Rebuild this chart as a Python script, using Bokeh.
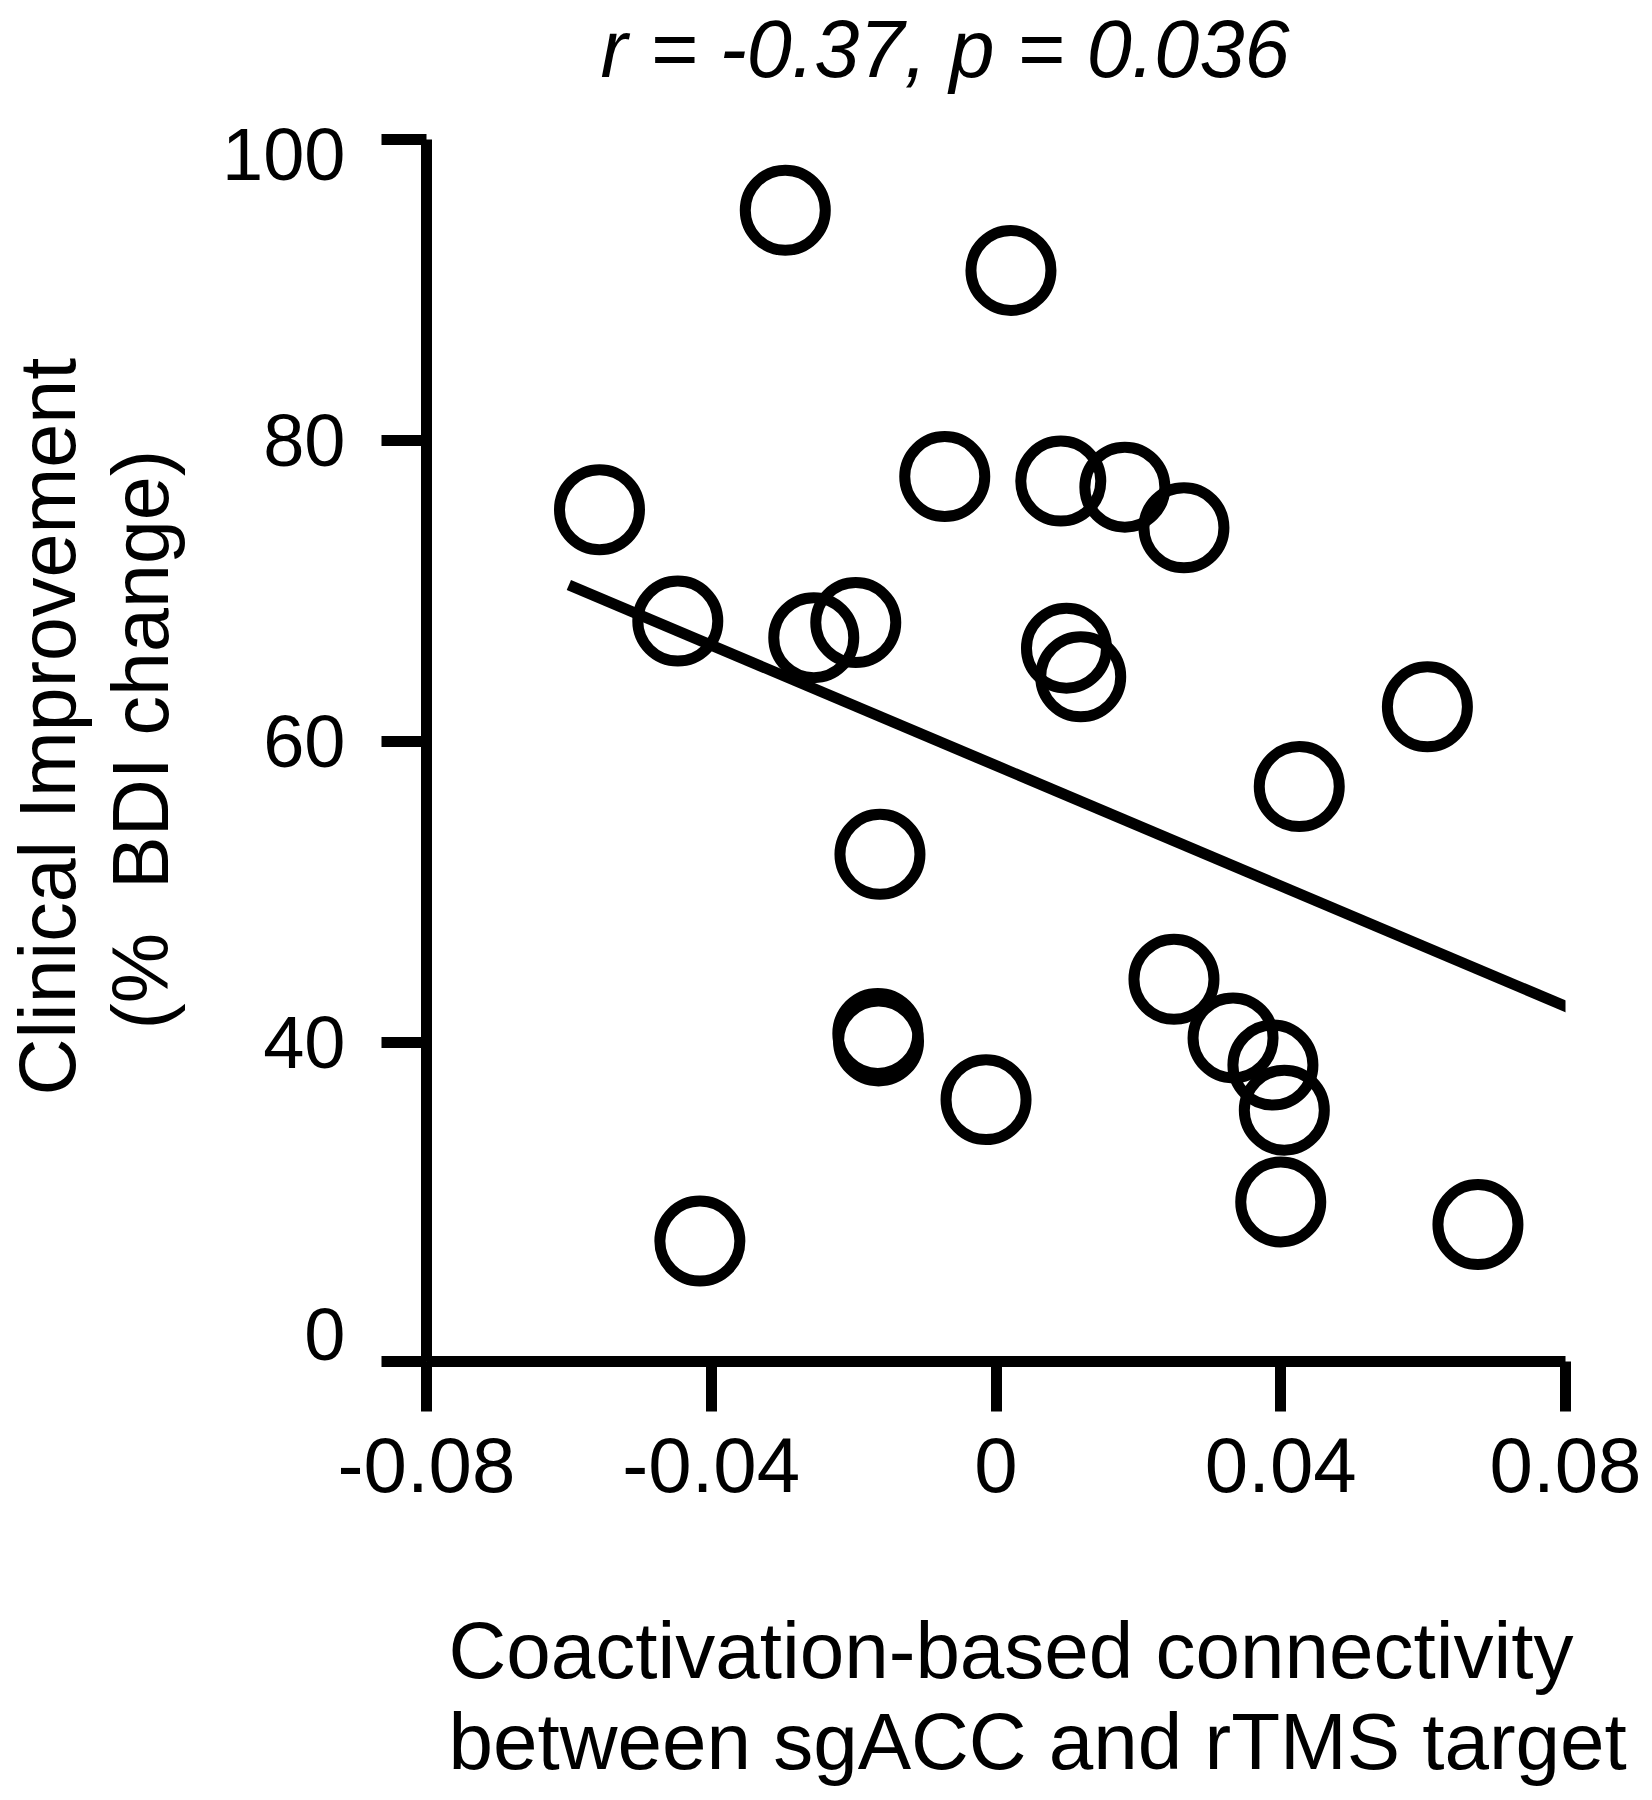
from bokeh.plotting import figure
from bokeh.models import Range1d, FixedTicker, CustomJSTickFormatter, LinearAxis, Title
from bokeh.embed import file_html
from bokeh.resources import INLINE

# ---------------- data ----------------
connectivity = [-0.0296, 0.0021, -0.0557, -0.0072, -0.0447, -0.0256, -0.0197,
                0.0091, 0.0181, 0.0264, 0.0099, 0.0119, 0.0606, 0.0426,
                -0.0163, -0.0166, -0.0165, -0.0014, -0.0416, 0.0250,
                0.0333, 0.0389, 0.0405, 0.0400, 0.0677]
bdi_change = [95.3, 91.3, 75.4, 77.6, 68.0, 66.9, 67.9,
              77.3, 76.9, 74.2, 66.2, 64.3, 62.3, 57.0,
              52.5, 40.6, 40.1, 36.2, 26.8, 44.2,
              40.3, 38.5, 35.5, 29.4, 27.9]

fit_x = [-0.060, 0.082]
fit_y = [70.4, 42.0]

x_ticks = [-0.08, -0.04, 0.0, 0.04, 0.08]
x_tick_labels = ["-0.08", "-0.04", "0", "0.04", "0.08"]
y_floor = 18.8                      # where the x axis sits (labelled "0")
y_ticks = [y_floor, 40, 60, 80, 100]
y_label_pos = [20.6, 40, 60, 80, 99.0]   # label positions as drawn in the figure
y_tick_labels = ["0", "40", "60", "80", "100"]

title_text = "r = -0.37, p = 0.036"
x_label_lines = ["Coactivation-based connectivity", "between sgACC and rTMS target"]
y_label_lines = ["Clinical Improvement", "(% \u00a0BDI change)"]

FONT = "Liberation Sans"

# ---------------- figure ----------------
W, H = 1648, 1796
FL, FR, FT, FB = 426, 1565, 139, 1361      # frame edges in page pixels
p = figure(width=W, height=H, output_backend="svg", toolbar_location=None,
           x_range=Range1d(-0.08, 0.08), y_range=Range1d(y_floor, 100),
           min_border_left=FL, min_border_right=W - FR,
           min_border_top=FT, min_border_bottom=H - FB)
p.outline_line_color = None
p.xgrid.grid_line_color = None
p.ygrid.grid_line_color = None
p.background_fill_color = "white"
p.border_fill_color = "white"

fmt_code = """
const i = tvals.findIndex(t => Math.abs(t - tick) < 1e-6);
return i >= 0 ? tlabels[i] : '';
"""

def style(ax, tick_out, fs, standoff):
    ax.axis_line_color = "black"
    ax.axis_line_width = 11
    ax.major_tick_line_color = "black"
    ax.major_tick_line_width = 11
    ax.major_tick_out = tick_out
    ax.major_tick_in = 0
    ax.minor_tick_line_color = None
    ax.major_label_text_font = FONT
    ax.major_label_text_font_size = fs
    ax.major_label_text_color = "black"
    ax.major_label_standoff = standoff

xa = p.xaxis[0]
xa.ticker = FixedTicker(ticks=x_ticks)
xa.formatter = CustomJSTickFormatter(args=dict(tvals=x_ticks, tlabels=x_tick_labels), code=fmt_code)
style(xa, 50, "78px", 26)

# left axis: line and tick marks only
ya = p.yaxis[0]
ya.ticker = FixedTicker(ticks=y_ticks)
ya.formatter = CustomJSTickFormatter(code="return '';")
style(ya, 45, "74px", 0)

# left axis: tick labels only
yl = LinearAxis(ticker=FixedTicker(ticks=y_label_pos),
                formatter=CustomJSTickFormatter(args=dict(tvals=y_label_pos, tlabels=y_tick_labels), code=fmt_code))
style(yl, 0, "74px", 36)
yl.axis_line_color = None
yl.major_tick_line_color = None
p.add_layout(yl, "left")

# ---------------- marks ----------------
p.line(fit_x, fit_y, line_color="black", line_width=11)
p.scatter(connectivity, bdi_change, marker="circle", size=80,
          fill_color=None, line_color="black", line_width=11)

# ---------------- texts ----------------
def spacer(gap):
    return Title(text=" ", text_font_size="2px", standoff=gap, text_color="white")

def text_title(txt, size, style="normal", standoff=0, **kw):
    return Title(text=txt, text_font=FONT, text_font_size=size, text_font_style=style,
                 text_color="black", standoff=standoff, **kw)

# above: spacer next to the frame, then the r/p line
p.add_layout(spacer(42), "above")
p.add_layout(text_title(title_text, "81px", "italic", align="left", offset=600 - FL), "above")

# below: axis, spacer, two left-aligned lines
p.add_layout(spacer(105), "below")
for line in x_label_lines:
    p.add_layout(text_title(line, "80px", align="left", offset=448 - FL), "below")

# left: axes, spacer, second line, first line
p.add_layout(spacer(29), "left")
for line, so, start in ((y_label_lines[1], 4, 1029), (y_label_lines[0], 0, 1095)):
    p.add_layout(text_title(line, "79px", standoff=so, align="left", offset=FB - start), "left")

open("out.html", "w").write(file_html(p, INLINE))
